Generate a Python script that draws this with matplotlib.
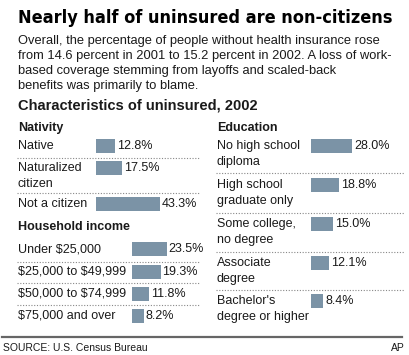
import matplotlib
matplotlib.use('Agg')
import matplotlib.pyplot as plt
from matplotlib import font_manager
from matplotlib.font_manager import FontProperties

# Data
nativity_labels = ['Native', 'Naturalized\ncitizen', 'Not a citizen']
nativity_values = [12.8, 17.5, 43.3]

income_labels = ['Under $25,000', '$25,000 to $49,999', '$50,000 to $74,999', '$75,000 and over']
income_values = [23.5, 19.3, 11.8, 8.2]

education_labels = ['No high school\ndiploma', 'High school\ngraduate only', 'Some college,\nno degree',
                    'Associate\ndegree', "Bachelor's\ndegree or higher"]
education_values = [28.0, 18.8, 15.0, 12.1, 8.4]

W, H = 410, 355
BAR = '#7b93a6'
TXT = '#1a1a1a'
SCALE = 1.48  # px per percent

names = {f.name for f in font_manager.fontManager.ttflist}
body = 'Liberation Sans' if 'Liberation Sans' in names else 'DejaVu Sans'
plt.rcParams['font.family'] = body

# condensed bold face for the headline, if one is installed
title_fp = None
for f in font_manager.fontManager.ttflist:
    fn = f.fname
    if ('Narrow' in fn or 'Condensed' in fn) and 'Bold' in fn and 'Oblique' not in fn \
            and 'Italic' not in fn:
        title_fp = FontProperties(fname=fn, size=17.5)
        break
if title_fp is None:
    title_fp = FontProperties(family=body, weight='bold', size=17.5)

fig = plt.figure(figsize=(W / 100, H / 100), dpi=100)
ax = fig.add_axes([0, 0, 1, 1])
ax.set_xlim(0, W)
ax.set_ylim(H, 0)
ax.axis('off')

# Title: shrink until it spans the same width as the reference (18..392 px)
title = ax.text(18, 18, 'Nearly half of uninsured are non-citizens', fontproperties=title_fp,
                va='center', ha='left', color='black')
r = fig.canvas.get_renderer()
tw = title.get_window_extent(renderer=r).width
title.set_fontsize(17.5 * 374 / tw)

intro = ['Overall, the percentage of people without health insurance rose',
         'from 14.6 percent in 2001 to 15.2 percent in 2002. A loss of work-',
         'based coverage stemming from layoffs and scaled-back',
         'benefits was primarily to blame.']
for i, line in enumerate(intro):
    ax.text(18, 41 + i * 15, line, fontsize=9.3, va='center', color=TXT)
ax.text(18, 105, 'Characteristics of uninsured, 2002', fontsize=10.5, fontweight='bold',
        va='center', color=TXT)


def panel(x_lab, x_bar, x_end, heading, head_y, labels, values, row_ys, sep_ys, top, bottom):
    ax.text(x_lab, head_y, heading, fontsize=9, fontweight='bold', va='center', color=TXT)
    for lab, yc in zip(labels, row_ys):
        lines = lab.split('\n')
        for j, ln in enumerate(lines):
            ax.text(x_lab, yc + j * 16, ln, fontsize=9, va='center', color=TXT, parse_math=False)
    for ys in sep_ys:
        ax.plot([x_lab - 1, x_end], [ys, ys], color='#888888', lw=0.8, ls=(0, (1, 1.5)))
    # bar axes in percent units
    width_px = x_end - x_bar
    bax = fig.add_axes([x_bar / W, 1 - bottom / H, width_px / W, (bottom - top) / H])
    bax.set_xlim(0, width_px / SCALE)
    bax.set_ylim(bottom, top)
    bax.axis('off')
    bax.barh(row_ys, values, height=14.5, left=0, color=BAR)
    for v, yc in zip(values, row_ys):
        bax.text(v + 1.2, yc, '%.1f%%' % v, fontsize=9, va='center', ha='left', color=TXT)


panel(18, 96, 200, 'Nativity', 128, nativity_labels, nativity_values,
      [146, 168, 204], [158, 193], 130, 220)
panel(18, 132, 200, 'Household income', 227, income_labels, income_values,
      [249, 272, 294, 316], [262, 283, 305], 235, 330)
panel(217, 311, 404, 'Education', 128, education_labels, education_values,
      [146, 185, 224, 263, 301], [173, 213, 252, 290], 130, 330)

# footer
ax.plot([2, 402], [337, 337], color='#666666', lw=1.6)
ax.text(3, 348, 'SOURCE: U.S. Census Bureau', fontsize=7.5, va='center', color=TXT)
ax.text(405, 348, 'AP', fontsize=7.5, va='center', ha='right', color=TXT)

fig.savefig('out.png', dpi=100)
